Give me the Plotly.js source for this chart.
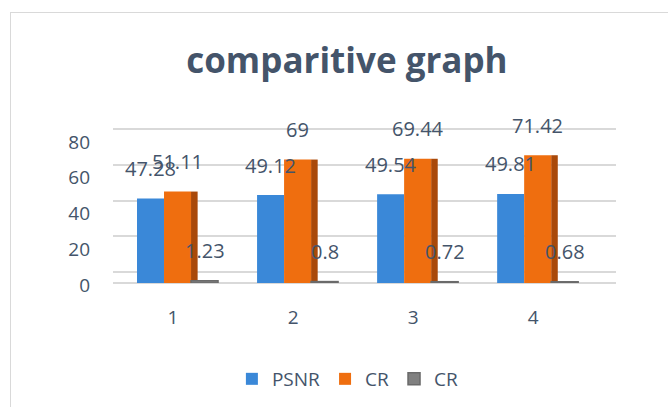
<!DOCTYPE html>
<html>
<head>
<meta charset="utf-8">
<script src="https://cdn.plot.ly/plotly-3.0.1.min.js"></script>
<style>
html,body{margin:0;padding:0;background:#fff;width:668px;height:407px;overflow:hidden;}
#frame{position:absolute;left:10px;top:12px;width:670px;height:400px;border:1px solid #d9d9d9;box-sizing:border-box;}
#chart{position:absolute;left:1px;top:1px;width:658px;height:395px;}
</style>
</head>
<body>
<div id="frame"><div id="chart"></div></div>
<script>
var categories = ["1", "2", "3", "4"];
var psnr = [47.28, 49.12, 49.54, 49.81];
var cr = [51.11, 69, 69.44, 71.42];
var cr2 = [1.23, 0.8, 0.72, 0.68];
var seriesNames = ["PSNR", "CR", "CR"];
var yTicks = [0, 20, 40, 60, 80];

var textColor = "#44546a";
var fontFam = "Open Sans, Noto Sans, sans-serif";
var colBlue = "#3a88d8", colOrange = "#ef6e0f", colOrangeSide = "#a9490a", colGray = "#808080";

var barW = 0.225;
var offs = [-0.3, -0.075, 0.15];
var pxPerCat = 120;

var traces = [
  {type:"bar", x:categories, y:psnr, name:seriesNames[0], offset:offs[0], width:barW,
   marker:{color:colBlue}, hoverinfo:"y"},
  {type:"bar", x:categories, y:cr, name:"side", offset:offs[2], width:0.055,
   marker:{color:colOrangeSide}, showlegend:false, hoverinfo:"skip"},
  {type:"bar", x:categories, y:cr, name:seriesNames[1], offset:offs[1], width:barW,
   marker:{color:colOrange}, hoverinfo:"y"},
  {type:"bar", x:categories, y:cr2, name:seriesNames[2], offset:offs[2], width:barW,
   marker:{color:colGray, line:{color:"#6a6a6a", width:1.5}}, hoverinfo:"y"},
  {type:"scatter", x:[], y:[], yaxis:"y2", showlegend:false, hoverinfo:"skip"}
];

var annotations = [];
[psnr, cr, cr2].forEach(function(arr, s){
  arr.forEach(function(v, i){
    annotations.push({
      x: i, y: v, xref:"x", yref:"y",
      text: String(v), showarrow:false,
      xshift: (offs[s] + barW/2) * pxPerCat, yshift: 30,
      yanchor:"middle", xanchor:"center",
      font:{family:fontFam, size:20, color:textColor}
    });
  });
});

var layout = {
  width:658, height:395,
  margin:{l:101, r:54, t:113, b:125},
  paper_bgcolor:"#fff", plot_bgcolor:"rgba(0,0,0,0)",
  barmode:"overlay",
  title:{text:"<b>comparitive graph</b>", font:{family:fontFam, size:35, color:textColor},
         x:0.509, xref:"container", xanchor:"center", y:0.881, yref:"container", yanchor:"middle"},
  xaxis:{type:"category", range:[-0.5, 3.69], showgrid:false, zeroline:false, showline:false,
         ticks:"", ticklabelstandoff:21,
         tickfont:{family:fontFam, size:19, color:textColor}},
  yaxis:{range:[0, 87.2], tickvals:yTicks, showgrid:false, zeroline:true, zerolinecolor:"#d9d9d9",
         zerolinewidth:2, showline:false, ticks:"", ticklabelstandoff:22, ticklabelshift:2,
         tickfont:{family:fontFam, size:19, color:textColor}},
  yaxis2:{overlaying:"y", range:[-6.1, 81.1], tickvals:yTicks, showgrid:true, gridcolor:"#d9d9d9",
          gridwidth:2, zeroline:false, showticklabels:false, ticks:""},
  legend:{orientation:"h", x:0.467, xanchor:"center", y:-0.605, yanchor:"middle",
          font:{family:fontFam, size:19, color:textColor}},
  annotations: annotations,
  showlegend:true
};

Plotly.newPlot("chart", traces, layout, {displayModeBar:false, staticPlot:true});
</script>
</body>
</html>
